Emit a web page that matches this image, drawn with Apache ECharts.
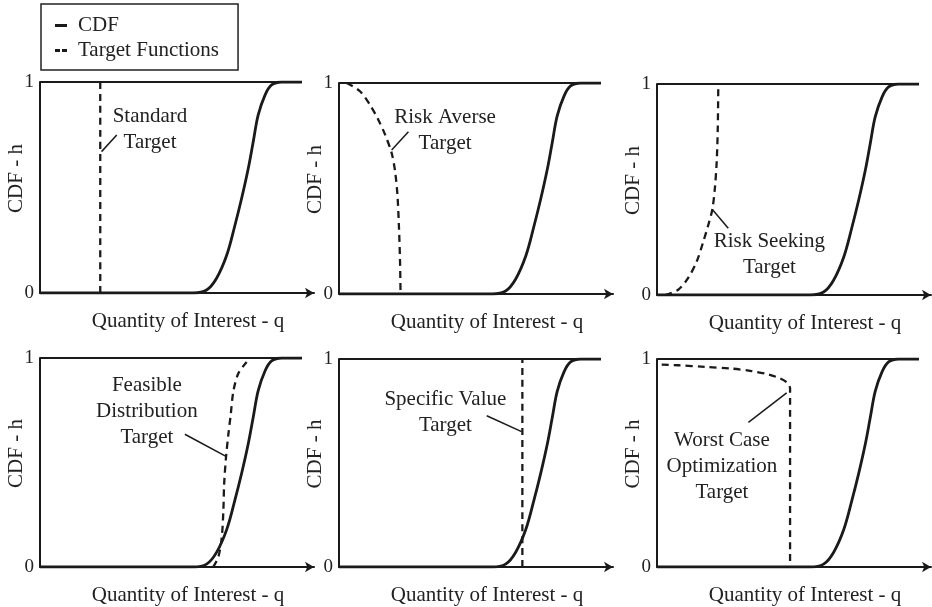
<!DOCTYPE html>
<html>
<head>
<meta charset="utf-8">
<script src="https://cdn.jsdelivr.net/npm/echarts@6/dist/echarts.min.js"></script>
<style>
  html, body { margin: 0; padding: 0; background: #fff; }
  #chart { width: 932px; height: 607px; }
</style>
</head>
<body>
<div id="chart"></div>
<script>
// CDF of the quantity of interest, shared by every panel (q in axis units, h = CDF)
const cdfQ = [0, 58.5, 63.6, 67.4, 71.3, 74.4, 77.0, 79.5, 81.4, 83.3, 85.9, 88.4, 92.3, 100];
const cdfH = [0, 0, 0.014, 0.07, 0.18, 0.32, 0.45, 0.59, 0.717, 0.844, 0.938, 0.986, 1, 1];

// Upper bound h = 1 drawn across each panel
const ceilingQ = [0, 100];
const ceilingH = [1, 1];

// Target functions, one per panel
const standardQ = [23, 23];
const standardH = [0, 1];

const averseQ = [2.9, 8.0, 11.8, 15.0, 17.6, 20.1, 21.4, 22.3, 22.9, 23.3, 23.5];
const averseH = [1, 0.961, 0.897, 0.826, 0.755, 0.668, 0.582, 0.471, 0.313, 0.155, 0];

const seekingQ = [3.1, 8.1, 11.9, 15.2, 17.7, 19.6, 21.1, 22.1, 22.8, 23.2, 23.4];
const seekingH = [0, 0.025, 0.081, 0.16, 0.254, 0.333, 0.404, 0.507, 0.634, 0.791, 1];

const feasibleQ = [66.1, 68.1, 69.4, 70.0, 70.3, 71.0, 71.9, 72.8, 73.8, 75.7, 78.9];
const feasibleH = [0, 0.049, 0.144, 0.27, 0.397, 0.523, 0.634, 0.728, 0.839, 0.926, 0.981];

const specificQ = [70, 70];
const specificH = [0, 1];

const worstQ = [1.8, 8.1, 18.3, 28.5, 36.1, 42.5, 46.9, 49.5, 50.8, 50.8];
const worstH = [0.973, 0.970, 0.962, 0.954, 0.942, 0.926, 0.907, 0.888, 0.859, 0];

// Tick labels and axis titles
const yTicks = [0, 1];
const xTitle = 'Quantity of Interest - q';
const yTitle = 'CDF - h';

// Annotation text, its anchor and the leader line (all in data units of the panel)
const targetNames = [
  'Standard\nTarget',
  'Risk Averse\nTarget',
  'Risk Seeking\nTarget',
  'Feasible\nDistribution\nTarget',
  'Specific Value\nTarget',
  'Worst Case\nOptimization\nTarget'
];
const nameAnchors = [[42, 0.773], [40.5, 0.777], [42.9, 0.194], [40.8, 0.742], [40.6, 0.744], [24.8, 0.484]];
const leaderLines = [
  [[23.5, 0.67], [29.3, 0.749]],
  [[20.1, 0.682], [26.5, 0.769]],
  [[21.3, 0.403], [27.2, 0.316]],
  [[55.3, 0.635], [71.0, 0.529]],
  [[56.4, 0.727], [69.7, 0.651]],
  [[34.9, 0.695], [49.5, 0.837]]
];

const targets = [
  [standardQ, standardH],
  [averseQ, averseH],
  [seekingQ, seekingH],
  [feasibleQ, feasibleH],
  [specificQ, specificH],
  [worstQ, worstH]
];

const zip = (xs, ys) => xs.map((x, i) => [x, ys[i]]);

const FONT = '"Liberation Serif", "Times New Roman", serif';
const INK = '#1a1a1a';
const TEXT = '#222';
const FS = 21;

// Panel placement: left / top of each plotting area
const panelPos = [[40, 82], [339, 83], [657, 84], [40, 358], [339, 359], [657, 359]];
const PLOT_W = 274, PLOT_H = 211;
const X_MAX = 104.6;

const grid = [], xAxis = [], yAxis = [], series = [];

panelPos.forEach((p, i) => {
  grid.push({ left: p[0], top: p[1], width: PLOT_W, height: PLOT_H, containLabel: false });
  xAxis.push({
    gridIndex: i, type: 'value', min: 0, max: X_MAX,
    name: xTitle, nameLocation: 'middle', nameGap: 18, nameMoveOverlap: false,
    nameTextStyle: { fontFamily: FONT, fontSize: FS, color: TEXT, padding: [0, 0, 0, 22] },
    axisLine: { show: true, onZero: false, symbol: ['none', 'arrow'], symbolSize: [8, 9],
      lineStyle: { color: INK, width: 2 } },
    axisTick: { show: false }, axisLabel: { show: false }, splitLine: { show: false }
  });
  yAxis.push({
    gridIndex: i, type: 'value', min: yTicks[0], max: yTicks[1], interval: 1,
    name: yTitle, nameLocation: 'middle', nameGap: 13, nameMoveOverlap: false,
    nameTextStyle: { fontFamily: FONT, fontSize: FS, color: TEXT, padding: [0, 0, 0, 18] },
    axisLine: { show: true, lineStyle: { color: INK, width: 2 } },
    axisTick: { show: false },
    axisLabel: { show: true, margin: 6, fontFamily: FONT, fontSize: 19, color: TEXT },
    splitLine: { show: false }
  });

  series.push({
    name: 'ceiling', type: 'line', xAxisIndex: i, yAxisIndex: i,
    data: zip(ceilingQ, ceilingH), symbol: 'none', silent: true,
    itemStyle: { color: INK }, lineStyle: { color: INK, width: 2 }
  });
  series.push({
    name: 'CDF', type: 'line', xAxisIndex: i, yAxisIndex: i,
    data: zip(cdfQ, cdfH), symbol: 'none', smooth: 0.35, silent: true,
    itemStyle: { color: INK }, lineStyle: { color: INK, width: 2.8 }, z: 3
  });
  series.push({
    name: 'Target Functions', type: 'line', xAxisIndex: i, yAxisIndex: i,
    data: zip(targets[i][0], targets[i][1]), symbol: 'none', smooth: 0.3, silent: true,
    itemStyle: { color: INK }, lineStyle: { color: INK, width: 2.3, type: [7, 5] }, z: 4,
    markLine: {
      silent: true, symbol: ['none', 'none'], animation: false,
      label: { show: false },
      lineStyle: { color: INK, width: 1.5, type: 'solid' },
      data: [[{ coord: leaderLines[i][0] }, { coord: leaderLines[i][1] }]]
    },
    markPoint: {
      silent: true, animation: false, symbol: 'rect', symbolSize: 1,
      itemStyle: { color: 'rgba(0,0,0,0)' },
      label: {
        show: true, position: 'inside', formatter: targetNames[i],
        fontFamily: FONT, fontSize: FS, color: TEXT, lineHeight: 26,
        align: 'center', verticalAlign: 'middle'
      },
      data: [{ coord: nameAnchors[i] }]
    }
  });
});

const chart = echarts.init(document.getElementById('chart'), null, { renderer: 'canvas' });
chart.setOption({
  animation: false,
  backgroundColor: '#fff',
  legend: {
    left: 41, top: 4, orient: 'vertical',
    padding: [11, 19, 9, 14], itemGap: 4, itemWidth: 12, itemHeight: 3,
    borderColor: '#222', borderWidth: 1.5, selectedMode: false,
    textStyle: { fontFamily: FONT, fontSize: FS, color: TEXT, padding: [0, 0, 0, 6] },
    data: [
      { name: 'CDF', icon: 'rect', itemStyle: { color: INK, borderWidth: 0 } },
      { name: 'Target Functions', icon: 'path://M0,0H5V3H0Z M7,0H12V3H7Z',
        itemStyle: { color: INK, borderWidth: 0 } }
    ]
  },
  grid, xAxis, yAxis, series
});
</script>
</body>
</html>
